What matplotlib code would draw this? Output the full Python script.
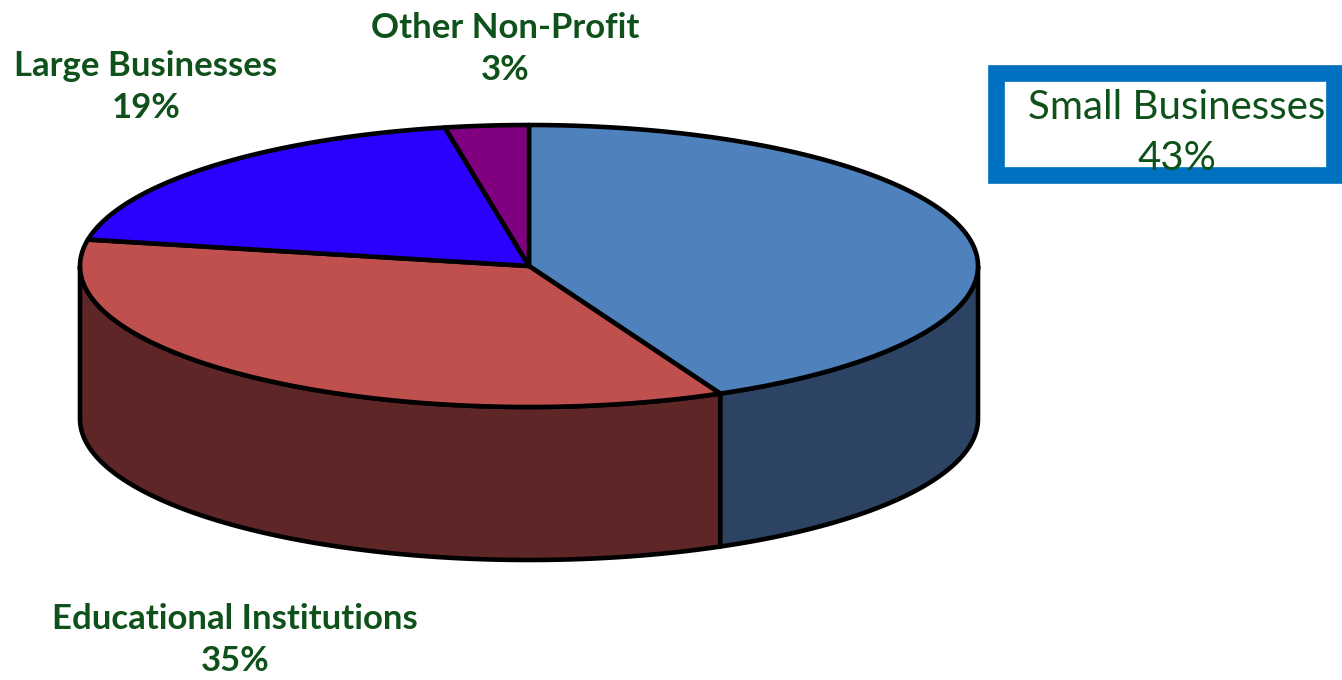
import numpy as np
import matplotlib.pyplot as plt
from matplotlib.patches import Polygon, Rectangle

labels = ["Small Businesses", "Educational Institutions", "Large Businesses", "Other Non-Profit"]
shares = [43, 35, 19, 3]
top_colors = ["#4F81BD", "#C0504D", "#2B00FF", "#800080"]
side_colors = ["#2C4363", "#5E2627", "#1A0099", "#4D004D"]

# pie geometry in pixel space
cx, cy, rx, ry, depth = 529, 266, 449, 141, 153
txt = "#0F511B"

fig = plt.figure(figsize=(13.42, 6.8), dpi=100)
ax = fig.add_axes([0, 0, 1, 1])
ax.set_xlim(0, 1342)
ax.set_ylim(680, 0)
ax.axis("off")

def pt(a, dy=0):
    r = np.radians(a)
    return cx + rx * np.cos(r), cy - ry * np.sin(r) + dy

# slice angles, clockwise from 12 o'clock
bounds = []
start = 90.0
for s in shares:
    end = start - s * 3.6
    bounds.append((start, end))
    start = end

# front side faces (angles between 180 and 360 in math sense)
for (a0, a1), col in zip(bounds, side_colors):
    lo, hi = min(a0, a1), max(a0, a1)
    for shift in (0, 360, -360):
        l, h = lo + shift, hi + shift
        l2, h2 = max(l, 180), min(h, 360)
        if h2 > l2:
            angs = np.linspace(l2, h2, 100)
            top = [pt(a) for a in angs]
            bot = [pt(a, depth) for a in angs[::-1]]
            ax.add_patch(Polygon(top + bot, closed=True, fc=col, ec="black", lw=3.3, joinstyle="round"))

# top wedges
for (a0, a1), col in zip(bounds, top_colors):
    angs = np.linspace(a0, a1, 200)
    poly = [(cx, cy)] + [pt(a) for a in angs]
    ax.add_patch(Polygon(poly, closed=True, fc=col, ec="black", lw=3.3, joinstyle="round"))

font = ["Lato", "DejaVu Sans"]
kw = dict(ha="center", va="center", color=txt, family=font, fontweight="bold", linespacing=1.4)
ax.text(505, 49, f"{labels[3]}\n{shares[3]}%", fontsize=25, **kw)
ax.text(146, 87, f"{labels[2]}\n{shares[2]}%", fontsize=25, **kw)
ax.text(235, 640, f"{labels[1]}\n{shares[1]}%", fontsize=25, **kw)

ax.add_patch(Rectangle((996, 73), 338, 102, fc="white", ec="#0070C0", lw=12))
ax.text(1177, 133, f"{labels[0]}\n{shares[0]}%", ha="center", va="center", fontsize=29,
        color=txt, family=font, linespacing=1.45)

fig.savefig("out.png", dpi=100)
